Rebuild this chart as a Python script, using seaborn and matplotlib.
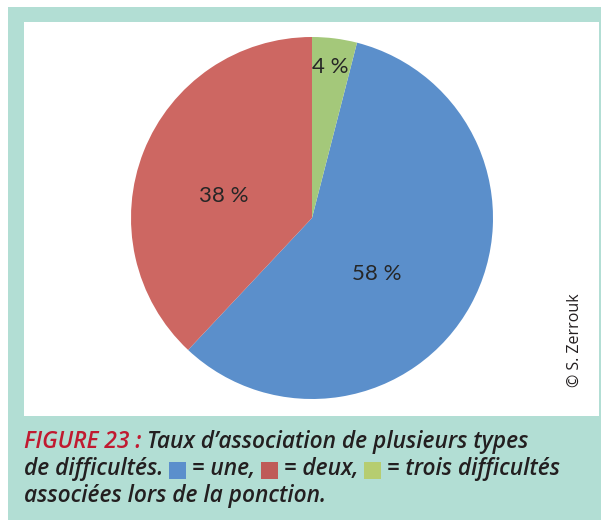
import matplotlib
matplotlib.use("Agg")
import matplotlib.pyplot as plt
import seaborn as sns
from matplotlib.patches import Rectangle

# data
categories = ["une", "deux", "trois"]
shares = [58, 38, 4]
pie_colors = ["#5b8fcb", "#cd6762", "#a4c87a"]
legend_colors = ["#5b8fcc", "#bf5b58", "#b6cd70"]

caption_head = "FIGURE 23 :"
caption_l1 = "Taux d\u2019association de plusieurs types"
caption_l2 = ["de difficultés.", "= une,", "= deux,", "= trois difficultés"]
caption_l3 = "associées lors de la ponction."
credit = "© S. Zerrouk"

sns.set_theme(style="white")
plt.rcParams["font.family"] = ["Open Sans", "DejaVu Sans"]

W, H = 601, 520
fig = plt.figure(figsize=(W / 100, H / 100), dpi=100)
fig.patch.set_facecolor("white")


def fx(x):
    return x / W


def fy(y):
    return 1 - y / H


# teal frame + white panel
fig.add_artist(Rectangle((fx(8), 0), 1 - fx(8), fy(7), transform=fig.transFigure,
                         facecolor="#b2ded4", edgecolor="none", zorder=0))
fig.add_artist(Rectangle((fx(24), fy(416)), fx(599) - fx(24), fy(22) - fy(416),
                         transform=fig.transFigure, facecolor="white",
                         edgecolor="none", zorder=0))

# pie
cx, cy, r = 312, 218, 181
ax = fig.add_axes([fx(cx - r), fy(cy + r), 2 * r / W, 2 * r / H])
wedges, texts, autotexts = ax.pie(
    shares, colors=pie_colors, startangle=90 - 3.6 * shares[-1],
    counterclock=False, radius=1, autopct=lambda p: f"{p:.0f} %",
    wedgeprops=dict(linewidth=0),
    textprops=dict(fontsize=16, color="#262626", family=["Lato", "DejaVu Sans"]))
ax.set_xlim(-1, 1)
ax.set_ylim(-1, 1)
ax.set_aspect("auto")
ax.axis("off")

# label positions as in the original (Excel-style placement)
label_xy = [(0.36, -0.31), (-0.485, 0.12), (0.10, 0.835)]
for t, (lx, ly) in zip(autotexts, label_xy):
    t.set_position((lx, ly))
    t.set_ha("center")
    t.set_va("center")

# caption
renderer = fig.canvas.get_renderer()
cap_kw = dict(fontsize=14, style="italic", weight="semibold", color="#231f20",
              va="baseline", ha="left")


def width(s):
    t = fig.text(0, 0, s, **cap_kw)
    w = t.get_window_extent(renderer).width
    t.remove()
    return w


# fit the first line to the width it has in the original (x 24 -> 531)
cap_kw["fontsize"] *= 507 / width(caption_head + " " + caption_l1)


def put(x, y, s, **kw):
    t = fig.text(fx(x), fy(y), s, **{**cap_kw, **kw})
    return t.get_window_extent(renderer).x1


space = width("x x") - width("xx")

x = put(24, 448, caption_head, color="#c01a30")
put(x + space, 448, caption_l1)

x = 24
for i, seg in enumerate(caption_l2):
    if i > 0:
        sq = 17
        fig.add_artist(Rectangle((fx(x + space), fy(479)), sq / W, sq / H,
                                 transform=fig.transFigure,
                                 facecolor=legend_colors[i - 1], edgecolor="none"))
        x = x + space + sq + space
    x = put(x, 475, seg)

put(24, 502, caption_l3)

fig.text(fx(575), fy(340), credit, rotation=90, ha="center", va="center",
         fontsize=11.5, color="#231f20")

fig.savefig("out.png", dpi=100)
plt.close(fig)
